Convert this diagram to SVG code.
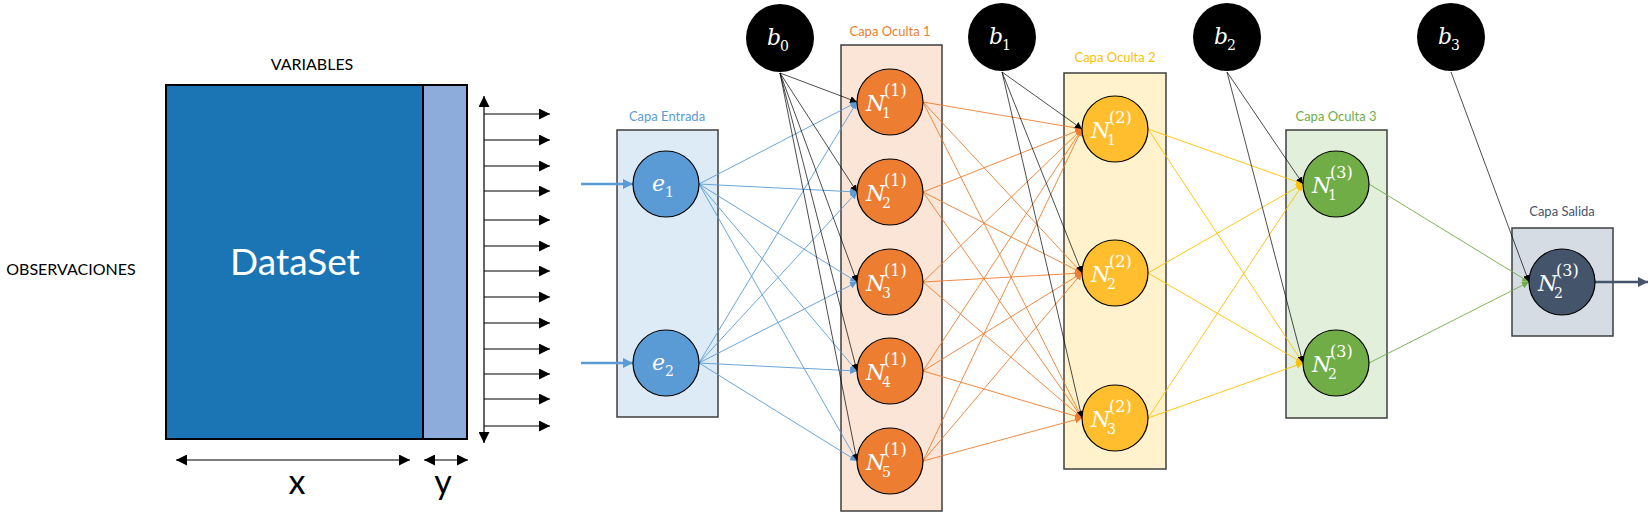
<svg xmlns="http://www.w3.org/2000/svg" width="1650" height="517" viewBox="0 0 1650 517">
<style>
.lbl{font-family:Lato,"Open Sans","Liberation Sans",sans-serif;}
.box{stroke:#3f3f3f;stroke-width:1.5;}
.nd{stroke:#000;stroke-width:1.2;}
.m{font-family:"DejaVu Serif","Liberation Serif",serif;fill:#fff;}
.mi{font-style:italic;font-size:22px;}
.ms{font-size:14px;}
.mp{font-size:16px;}
.c{fill:none;stroke-width:0.9;}
.cb{stroke:#5B9BD5;marker-end:url(#ab);}
.co{stroke:#ED7D31;marker-end:url(#ao);}
.cy{stroke:#FFC000;marker-end:url(#ay);}
.cg{stroke:#70AD47;marker-end:url(#ag);}
.ck{stroke:#000;stroke-width:0.7;marker-end:url(#ak);}
.da{stroke:#000;stroke-width:1.2;fill:none;}
</style>
<defs>
<marker id="ab" viewBox="0 0 10 10" refX="10" refY="5" markerWidth="7" markerHeight="7" markerUnits="userSpaceOnUse" orient="auto"><path d="M0,0L10,5L0,10z" fill="#5B9BD5"/></marker>
<marker id="ao" viewBox="0 0 10 10" refX="10" refY="5" markerWidth="7" markerHeight="7" markerUnits="userSpaceOnUse" orient="auto"><path d="M0,0L10,5L0,10z" fill="#ED7D31"/></marker>
<marker id="ay" viewBox="0 0 10 10" refX="10" refY="5" markerWidth="7" markerHeight="7" markerUnits="userSpaceOnUse" orient="auto"><path d="M0,0L10,5L0,10z" fill="#FFC000"/></marker>
<marker id="ag" viewBox="0 0 10 10" refX="10" refY="5" markerWidth="7" markerHeight="7" markerUnits="userSpaceOnUse" orient="auto"><path d="M0,0L10,5L0,10z" fill="#70AD47"/></marker>
<marker id="ak" viewBox="0 0 10 10" refX="10" refY="5" markerWidth="7" markerHeight="7" markerUnits="userSpaceOnUse" orient="auto"><path d="M0,0L10,5L0,10z" fill="#000"/></marker>
<marker id="abig" viewBox="0 0 10 10" refX="10" refY="5" markerWidth="11" markerHeight="11" markerUnits="userSpaceOnUse" orient="auto-start-reverse"><path d="M0,0L10,5L0,10z" fill="#000"/></marker>
<marker id="ablue" viewBox="0 0 10 10" refX="10" refY="5" markerWidth="10" markerHeight="10" markerUnits="userSpaceOnUse" orient="auto"><path d="M0,0L10,5L0,10z" fill="#5B9BD5"/></marker>
<marker id="anavy" viewBox="0 0 10 10" refX="10" refY="5" markerWidth="10" markerHeight="10" markerUnits="userSpaceOnUse" orient="auto"><path d="M0,0L10,5L0,10z" fill="#44546A"/></marker>
</defs>
<rect width="1650" height="517" fill="#fff"/>

<g id="dataset">
<rect x="166" y="85" width="257" height="354" fill="#1B75B4" stroke="#000" stroke-width="2"/>
<rect x="423" y="85" width="44" height="354" fill="#8EACDB" stroke="#000" stroke-width="2"/>
<text x="295" y="275" class="lbl" font-size="37" fill="#fff" text-anchor="middle">DataSet</text>
<text x="312" y="70" class="lbl" font-size="16" fill="#000" text-anchor="middle">VARIABLES</text>
<text x="71" y="275" class="lbl" font-size="16" fill="#000" text-anchor="middle">OBSERVACIONES</text>
<text x="297" y="494" class="lbl" font-size="34" fill="#000" text-anchor="middle">x</text>
<text x="443" y="494" class="lbl" font-size="34" fill="#000" text-anchor="middle">y</text>
<line x1="484" y1="96" x2="484" y2="443" class="da" marker-start="url(#abig)" marker-end="url(#abig)"/>
<line x1="176" y1="460" x2="410" y2="460" class="da" marker-start="url(#abig)" marker-end="url(#abig)"/>
<line x1="424" y1="460" x2="468" y2="460" class="da" marker-start="url(#abig)" marker-end="url(#abig)"/>
<g class="da" marker-end="url(#abig)">
<line x1="484" y1="114" x2="550" y2="114"/>
<line x1="484" y1="140" x2="550" y2="140"/>
<line x1="484" y1="166" x2="550" y2="166"/>
<line x1="484" y1="191" x2="550" y2="191"/>
<line x1="484" y1="220" x2="550" y2="220"/>
<line x1="484" y1="246" x2="550" y2="246"/>
<line x1="484" y1="271" x2="550" y2="271"/>
<line x1="484" y1="297" x2="550" y2="297"/>
<line x1="484" y1="323" x2="550" y2="323"/>
<line x1="484" y1="349" x2="550" y2="349"/>
<line x1="484" y1="374" x2="550" y2="374"/>
<line x1="484" y1="399" x2="550" y2="399"/>
<line x1="484" y1="426" x2="550" y2="426"/>
</g>
</g>

<g id="layer-entrada">
<rect x="617" y="130" width="101" height="287" fill="#DDEBF7" class="box"/>
<text x="667" y="121" class="lbl" font-size="13" fill="#5B9BD5" text-anchor="middle">Capa Entrada</text>
</g>
<g id="layer-oculta1">
<rect x="841" y="45" width="101" height="466" fill="#FBE5D6" class="box"/>
<text x="890" y="36" class="lbl" font-size="13" fill="#ED7D31" text-anchor="middle">Capa Oculta 1</text>
</g>
<g id="layer-oculta2">
<rect x="1064" y="73" width="102" height="396" fill="#FFF2CC" class="box"/>
<text x="1115" y="62" class="lbl" font-size="13" fill="#FFC000" text-anchor="middle">Capa Oculta 2</text>
</g>
<g id="layer-oculta3">
<rect x="1286" y="130" width="101" height="288" fill="#E2EFDA" class="box"/>
<text x="1336" y="121" class="lbl" font-size="13" fill="#70AD47" text-anchor="middle">Capa Oculta 3</text>
</g>
<g id="layer-salida">
<rect x="1512" y="228" width="101" height="108" fill="#D6DCE4" class="box"/>
<text x="1562" y="216" class="lbl" font-size="13" fill="#44546A" text-anchor="middle">Capa Salida</text>
</g>

<g id="connectors">
<line x1="581" y1="184" x2="633" y2="184" stroke="#5B9BD5" stroke-width="2.5" marker-end="url(#ablue)"/>
<line x1="581" y1="363" x2="633" y2="363" stroke="#5B9BD5" stroke-width="2.5" marker-end="url(#ablue)"/>
<line x1="1595" y1="282" x2="1648" y2="282" stroke="#44546A" stroke-width="2.5" marker-end="url(#anavy)"/>
<g class="c cb">
<line x1="699" y1="184" x2="857" y2="102"/>
<line x1="699" y1="184" x2="857" y2="192"/>
<line x1="699" y1="184" x2="857" y2="282"/>
<line x1="699" y1="184" x2="857" y2="371"/>
<line x1="699" y1="184" x2="857" y2="461"/>
<line x1="699" y1="363" x2="857" y2="102"/>
<line x1="699" y1="363" x2="857" y2="192"/>
<line x1="699" y1="363" x2="857" y2="282"/>
<line x1="699" y1="363" x2="857" y2="371"/>
<line x1="699" y1="363" x2="857" y2="461"/>
</g>
<g class="c co">
<line x1="923" y1="102" x2="1082" y2="129"/>
<line x1="923" y1="102" x2="1082" y2="273"/>
<line x1="923" y1="102" x2="1082" y2="418"/>
<line x1="923" y1="192" x2="1082" y2="129"/>
<line x1="923" y1="192" x2="1082" y2="273"/>
<line x1="923" y1="192" x2="1082" y2="418"/>
<line x1="923" y1="282" x2="1082" y2="129"/>
<line x1="923" y1="282" x2="1082" y2="273"/>
<line x1="923" y1="282" x2="1082" y2="418"/>
<line x1="923" y1="371" x2="1082" y2="129"/>
<line x1="923" y1="371" x2="1082" y2="273"/>
<line x1="923" y1="371" x2="1082" y2="418"/>
<line x1="923" y1="461" x2="1082" y2="129"/>
<line x1="923" y1="461" x2="1082" y2="273"/>
<line x1="923" y1="461" x2="1082" y2="418"/>
</g>
<g class="c cy">
<line x1="1148" y1="129" x2="1303" y2="184"/>
<line x1="1148" y1="129" x2="1303" y2="363"/>
<line x1="1148" y1="273" x2="1303" y2="184"/>
<line x1="1148" y1="273" x2="1303" y2="363"/>
<line x1="1148" y1="418" x2="1303" y2="184"/>
<line x1="1148" y1="418" x2="1303" y2="363"/>
</g>
<g class="c cg">
<line x1="1369" y1="184" x2="1529" y2="282"/>
<line x1="1369" y1="363" x2="1529" y2="282"/>
</g>
<g class="c ck">
<line x1="780" y1="73" x2="857" y2="102"/>
<line x1="780" y1="73" x2="857" y2="192"/>
<line x1="780" y1="73" x2="857" y2="282"/>
<line x1="780" y1="73" x2="857" y2="371"/>
<line x1="780" y1="73" x2="857" y2="461"/>
<line x1="1002" y1="72" x2="1082" y2="129"/>
<line x1="1002" y1="72" x2="1082" y2="273"/>
<line x1="1002" y1="72" x2="1082" y2="418"/>
<line x1="1227" y1="72" x2="1303" y2="184"/>
<line x1="1227" y1="72" x2="1303" y2="363"/>
<line x1="1451" y1="72" x2="1529" y2="282"/>
</g>
</g>

<g id="b0"><circle cx="780" cy="38" r="34" fill="#000"/><text class="m"><tspan class="mi" x="767" y="45">b</tspan><tspan class="ms" x="780" y="51">0</tspan></text></g>
<g id="b1"><circle cx="1002" cy="37" r="34" fill="#000"/><text class="m"><tspan class="mi" x="989" y="44">b</tspan><tspan class="ms" x="1002" y="50">1</tspan></text></g>
<g id="b2"><circle cx="1227" cy="37" r="34" fill="#000"/><text class="m"><tspan class="mi" x="1214" y="44">b</tspan><tspan class="ms" x="1227" y="50">2</tspan></text></g>
<g id="b3"><circle cx="1451" cy="37" r="34" fill="#000"/><text class="m"><tspan class="mi" x="1438" y="44">b</tspan><tspan class="ms" x="1451" y="50">3</tspan></text></g>

<g id="e1"><circle cx="666" cy="184" r="33" fill="#5B9BD5" class="nd"/><text class="m"><tspan class="mi" x="652" y="191">e</tspan><tspan class="ms" x="665" y="197">1</tspan></text></g>
<g id="e2"><circle cx="666" cy="363" r="33" fill="#5B9BD5" class="nd"/><text class="m"><tspan class="mi" x="652" y="370">e</tspan><tspan class="ms" x="665" y="376">2</tspan></text></g>

<g id="n1-1"><circle cx="890" cy="102" r="33" fill="#ED7D31" class="nd"/><text class="m"><tspan class="mi" x="866" y="111">N</tspan><tspan class="ms" x="882" y="118">1</tspan><tspan class="mp" x="884" y="96">(1)</tspan></text></g>
<g id="n1-2"><circle cx="890" cy="192" r="33" fill="#ED7D31" class="nd"/><text class="m"><tspan class="mi" x="866" y="201">N</tspan><tspan class="ms" x="882" y="208">2</tspan><tspan class="mp" x="884" y="186">(1)</tspan></text></g>
<g id="n1-3"><circle cx="890" cy="282" r="33" fill="#ED7D31" class="nd"/><text class="m"><tspan class="mi" x="866" y="291">N</tspan><tspan class="ms" x="882" y="298">3</tspan><tspan class="mp" x="884" y="276">(1)</tspan></text></g>
<g id="n1-4"><circle cx="890" cy="371" r="33" fill="#ED7D31" class="nd"/><text class="m"><tspan class="mi" x="866" y="380">N</tspan><tspan class="ms" x="882" y="387">4</tspan><tspan class="mp" x="884" y="365">(1)</tspan></text></g>
<g id="n1-5"><circle cx="890" cy="461" r="33" fill="#ED7D31" class="nd"/><text class="m"><tspan class="mi" x="866" y="470">N</tspan><tspan class="ms" x="882" y="477">5</tspan><tspan class="mp" x="884" y="455">(1)</tspan></text></g>

<g id="n2-1"><circle cx="1115" cy="129" r="33" fill="#FEBE2E" class="nd"/><text class="m"><tspan class="mi" x="1091" y="138">N</tspan><tspan class="ms" x="1107" y="145">1</tspan><tspan class="mp" x="1109" y="123">(2)</tspan></text></g>
<g id="n2-2"><circle cx="1115" cy="273" r="33" fill="#FEBE2E" class="nd"/><text class="m"><tspan class="mi" x="1091" y="282">N</tspan><tspan class="ms" x="1107" y="289">2</tspan><tspan class="mp" x="1109" y="267">(2)</tspan></text></g>
<g id="n2-3"><circle cx="1115" cy="418" r="33" fill="#FEBE2E" class="nd"/><text class="m"><tspan class="mi" x="1091" y="427">N</tspan><tspan class="ms" x="1107" y="434">3</tspan><tspan class="mp" x="1109" y="412">(2)</tspan></text></g>

<g id="n3-1"><circle cx="1336" cy="184" r="33" fill="#70AD47" class="nd"/><text class="m"><tspan class="mi" x="1312" y="193">N</tspan><tspan class="ms" x="1328" y="200">1</tspan><tspan class="mp" x="1330" y="178">(3)</tspan></text></g>
<g id="n3-2"><circle cx="1336" cy="363" r="33" fill="#70AD47" class="nd"/><text class="m"><tspan class="mi" x="1312" y="372">N</tspan><tspan class="ms" x="1328" y="379">2</tspan><tspan class="mp" x="1330" y="357">(3)</tspan></text></g>

<g id="out"><circle cx="1562" cy="282" r="33" fill="#44546A" class="nd"/><text class="m"><tspan class="mi" x="1538" y="291">N</tspan><tspan class="ms" x="1554" y="298">2</tspan><tspan class="mp" x="1556" y="276">(3)</tspan></text></g>
</svg>
